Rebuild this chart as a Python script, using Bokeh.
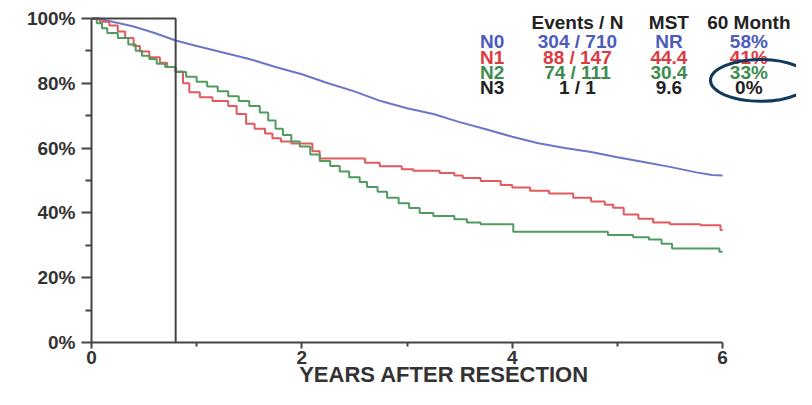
from bokeh.plotting import figure
from bokeh.models import Range1d, FixedTicker, ColumnDataSource
from bokeh.core.properties import value
from bokeh.embed import file_html
from bokeh.resources import INLINE

# ---- data ----
n0_t = [0, 0.1, 0.2, 0.4, 0.6, 0.8, 1.0, 1.25, 1.5, 1.75, 2.0, 2.25, 2.5, 2.75, 3.0,
        3.25, 3.5, 3.75, 4.0, 4.25, 4.5, 4.75, 5.0, 5.25, 5.5, 5.75, 5.9, 6.0]
n0_s = [100, 99.7, 99, 97.5, 95.5, 93.2, 91.5, 89.5, 87.5, 85, 82.8, 80, 77.5, 74.5, 72.3,
        70.5, 68, 65.8, 63.5, 61.5, 60, 58.8, 57.2, 55.7, 54.2, 52.5, 51.7, 51.5]

n1_t = [0, 0.08, 0.17, 0.25, 0.32, 0.4, 0.46, 0.55, 0.65, 0.72, 0.8, 0.87, 0.93, 1.03,
        1.15, 1.3, 1.38, 1.47, 1.55, 1.65, 1.72, 1.8, 1.9, 2.1, 2.17, 2.6, 2.74, 2.95,
        3.06, 3.31, 3.45, 3.53, 3.7, 3.89, 4.0, 4.17, 4.35, 4.58, 4.75, 4.88, 4.96, 5.06,
        5.2, 5.34, 5.5, 5.79, 5.98, 6.0]
n1_s = [100, 99, 97.8, 96, 94, 91.5, 89.8, 88, 86.3, 85, 83.6, 80, 77.2, 75.7,
        74.5, 73, 70.5, 67.5, 66, 64.5, 63, 62, 61.4, 59, 56.8, 55.5, 54.4, 53.5,
        53, 52.3, 51.5, 50.8, 49.8, 48.6, 47.8, 46.8, 46, 44.7, 43.5, 42.5, 41.6, 39.5,
        38.2, 37, 36.5, 36.2, 34.7, 34.7]

n2_t = [0, 0.05, 0.1, 0.15, 0.25, 0.35, 0.42, 0.48, 0.55, 0.62, 0.7, 0.8, 0.9, 1.0, 1.1,
        1.2, 1.3, 1.4, 1.5, 1.6, 1.68, 1.75, 1.82, 1.9, 1.98, 2.08, 2.17, 2.27, 2.36, 2.45,
        2.55, 2.62, 2.72, 2.81, 2.92, 3.02, 3.12, 3.25, 3.45, 3.57, 3.7, 4.01, 4.91, 5.15,
        5.3, 5.42, 5.52, 5.97, 6.0]
n2_s = [100, 98.5, 97, 95.5, 94, 92, 90, 88.5, 87.5, 86, 85, 83.5, 82, 80.5, 79,
        77.5, 76, 74.5, 73, 71, 68.5, 66, 64, 62, 60.5, 58, 56, 54.5, 52.8, 51,
        49.5, 48, 46.5, 44.7, 43, 41.5, 40, 39, 38, 37, 36.5, 34.2, 33.2, 32.5,
        31.8, 30.5, 29, 28, 28]

groups = ["N0", "N1", "N2", "N3"]
events_n = ["304 / 710", "88 / 147", "74 / 111", "1 / 1"]
mst = ["NR", "44.4", "30.4", "9.6"]
month60 = ["58%", "41%", "33%", "0%"]
headers = ["Events / N", "MST", "60 Month"]

box_end = 0.8             # vertical reference line (years)
highlight = (6.36, 80.9)  # circled 60-month value

line_colors = ["#6b76c8", "#e35a5e", "#4f9c5f"]
text_colors = ["#4b5cbc", "#dd3a42", "#3d8c4e", "#222222"]
axis_col = "#444444"
FONT = "Liberation Sans"

p = figure(width=796, height=389, output_backend="svg", toolbar_location=None,
           x_range=Range1d(0, 6.703), y_range=Range1d(0, 105.54),
           min_border_left=91, min_border_right=0, min_border_top=0, min_border_bottom=46)
p.outline_line_color = None
p.grid.grid_line_color = None
p.background_fill_color = "white"

# curves
p.line(n0_t, n0_s, line_color=line_colors[0], line_width=2)
p.step(n1_t, n1_s, mode="after", line_color=line_colors[1], line_width=2)
p.step(n2_t, n2_s, mode="after", line_color=line_colors[2], line_width=2)

# reference box
p.line([0, box_end, box_end], [100, 100, 0], line_color=axis_col, line_width=2)

# table
col_x = [3.81, 4.62, 5.49, 6.25]
row_y = [92.9, 88.1, 83.4, 78.6]
hdr_y = 98.8
tx, ty, tt, tc = [], [], [], []
for h, x in zip(headers, col_x[1:]):
    tx.append(x); ty.append(hdr_y); tt.append(h); tc.append("#222222")
for i in range(4):
    for x, t in zip(col_x, [groups[i], events_n[i], mst[i], month60[i]]):
        tx.append(x); ty.append(row_y[i]); tt.append(t); tc.append(text_colors[i])
src = ColumnDataSource(dict(x=tx, y=ty, text=tt, color=tc))
p.text(x="x", y="y", text="text", text_color="color", source=src,
       text_align="center", text_baseline="middle",
       text_font=value(FONT), text_font_style="bold", text_font_size=value("19px"))

# highlight ellipse
p.ellipse(x=[highlight[0]], y=[highlight[1]], width=0.95, height=12.9,
          fill_alpha=0, line_color="#10395c", line_width=3)

# axes
xa = p.xaxis[0]
xa.ticker = FixedTicker(ticks=[0, 2, 4, 6], minor_ticks=[1, 3, 5])
xa.bounds = (0, 6)
xa.axis_label = "YEARS AFTER RESECTION"
xa.axis_label_text_font = FONT
xa.axis_label_text_font_style = "bold"
xa.axis_label_text_font_size = "22px"
xa.axis_label_text_color = "#333333"
xa.axis_label_standoff = -5
xa.major_label_standoff = 2

ya = p.yaxis[0]
ya.ticker = FixedTicker(ticks=[0, 20, 40, 60, 80, 100], minor_ticks=[10, 30, 50, 70, 90])
ya.bounds = (0, 100)
ya.major_label_overrides = {v: f"{v}%" for v in [0, 20, 40, 60, 80, 100]}
ya.major_label_standoff = 6

for ax in (xa, ya):
    ax.axis_line_color = axis_col
    ax.axis_line_width = 2
    ax.major_tick_line_color = axis_col
    ax.major_tick_line_width = 2
    ax.minor_tick_line_color = axis_col
    ax.minor_tick_line_width = 2
    ax.major_label_text_font = FONT
    ax.major_label_text_font_style = "bold"
    ax.major_label_text_font_size = "19px"
    ax.major_label_text_color = "#333333"
    ax.major_tick_in = 0
    ax.minor_tick_in = 0
xa.major_tick_out = 6
xa.minor_tick_out = 4
ya.major_tick_out = 10
ya.minor_tick_out = 6

open("out.html", "w").write(file_html(p, INLINE))
